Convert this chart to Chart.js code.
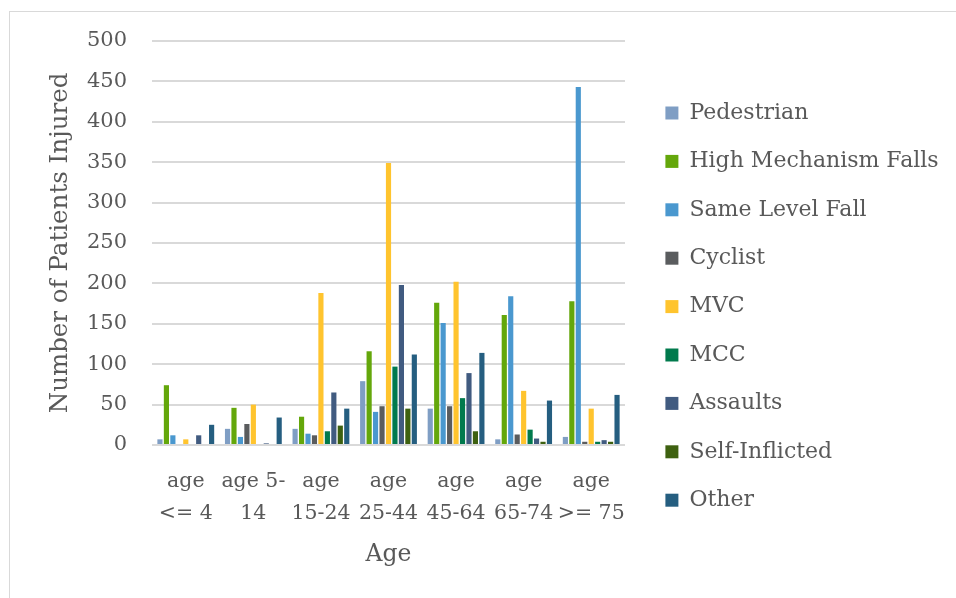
<!DOCTYPE html>
<html>
<head>
<meta charset="utf-8">
<script src="https://cdn.jsdelivr.net/npm/chart.js@4.4.1/dist/chart.umd.min.js"></script>
<style>
  html, body { margin: 0; padding: 0; background: #fff; }
  #wrap { width: 956px; height: 598px; position: relative; }
</style>
</head>
<body>
<div id="wrap"><canvas id="chart"></canvas></div>
<script>
// age groups (x categories)
var ageGroups = [["age", "<= 4"], ["age 5-", "14"], ["age", "15-24"], ["age", "25-44"], ["age", "45-64"], ["age", "65-74"], ["age", ">= 75"]];

// number of patients injured per mechanism
var pedestrian   = [7, 20, 20, 79, 45, 7, 10];
var highFalls    = [74, 46, 35, 116, 176, 161, 178];
var sameLevel    = [12, 10, 14, 41, 151, 184, 443];
var cyclist      = [0, 26, 12, 48, 48, 13, 4];
var mvc          = [7, 50, 188, 349, 202, 67, 45];
var mcc          = [0, 0, 17, 97, 58, 19, 4];
var assaults     = [12, 2, 65, 198, 89, 8, 6];
var selfInflict  = [0, 0, 24, 45, 17, 4, 4];
var other        = [25, 34, 45, 112, 114, 55, 62];

var seriesNames = ["Pedestrian", "High Mechanism Falls", "Same Level Fall", "Cyclist", "MVC", "MCC", "Assaults", "Self-Inflicted", "Other"];
var seriesData = [pedestrian, highFalls, sameLevel, cyclist, mvc, mcc, assaults, selfInflict, other];
var seriesColors = ["#7f9ec4", "#64a70b", "#4a98cf", "#5a5c5e", "#ffc42e", "#017a4d", "#415b80", "#3e6110", "#255e80"];

var yTicks = [0, 50, 100, 150, 200, 250, 300, 350, 400, 450, 500];

var textColor = "#595959";
var fontFam = "'DejaVu Serif', serif";

var datasets = [];
for (var i = 0; i < seriesNames.length; i++) {
	datasets.push({
		label: seriesNames[i],
		data: seriesData[i],
		backgroundColor: seriesColors[i],
		borderWidth: 0,
		barPercentage: 0.8,
		categoryPercentage: 0.86
	});
}

//outer frame + legend nudge (legend box is wider than chart.js wants)
var framePlugin = {
	id: 'frame',
	afterLayout: function(chart){
		var lg = chart.legend;
		lg.left += 14;
		lg.right = 956;
		lg.width = lg.right - lg.left;
		lg.maxWidth = lg.width;
		lg.top -= 12.9; lg.bottom -= 12.9;
	},
	beforeDraw: function(chart){
		var c = chart.ctx;
		c.save();
		c.strokeStyle = "#d9d9d9";
		c.lineWidth = 1;
		c.strokeRect(9.5, 11.5, 960, 600);
		c.restore();
	}
};

new Chart(document.getElementById("chart"), {
	type: 'bar',
	data: { labels: ageGroups, datasets: datasets },
	plugins: [framePlugin],
	options: {
		responsive: true,
		maintainAspectRatio: false,
		animation: false,
		layout: { padding: { left: 0, top: 41, right: 81, bottom: 0 } },
		plugins: {
			tooltip: { enabled: false },
			legend: {
				position: 'right',
				maxWidth: 250,
				labels: {
					boxWidth: 13,
					boxHeight: 13,
					padding: 26.4,
					color: textColor,
					font: { family: fontFam, size: 22 }
				}
			}
		},
		scales: {
			x: {
				grid: { display: false },
				border: { display: false },
				ticks: {
					color: textColor,
					padding: 13,
					maxRotation: 0,
					autoSkip: false,
					font: { family: fontFam, size: 20.5, lineHeight: 1.56 }
				},
				title: {
					display: true,
					text: "Age",
					color: textColor,
					padding: { top: 0, bottom: 29 },
					font: { family: fontFam, size: 23.5 }
				},
				afterFit: function(s){ s.height = 153; }
			},
			y: {
				min: 0,
				max: 500,
				afterBuildTicks: function(s){ s.ticks = yTicks.map(function(v){ return {value: v}; }); },
				grid: { color: "#d9d9d9", lineWidth: 2, drawTicks: false },
				border: { display: false },
				ticks: {
					color: textColor,
					padding: 25,
					font: { family: fontFam, size: 21 }
				},
				title: {
					display: true,
					text: "Number of Patients Injured",
					color: textColor,
					padding: { top: 46, bottom: 0 },
					font: { family: fontFam, size: 24.5 }
				},
				afterFit: function(s){ s.width = 152; }
			}
		}
	}
});
</script>
</body>
</html>
